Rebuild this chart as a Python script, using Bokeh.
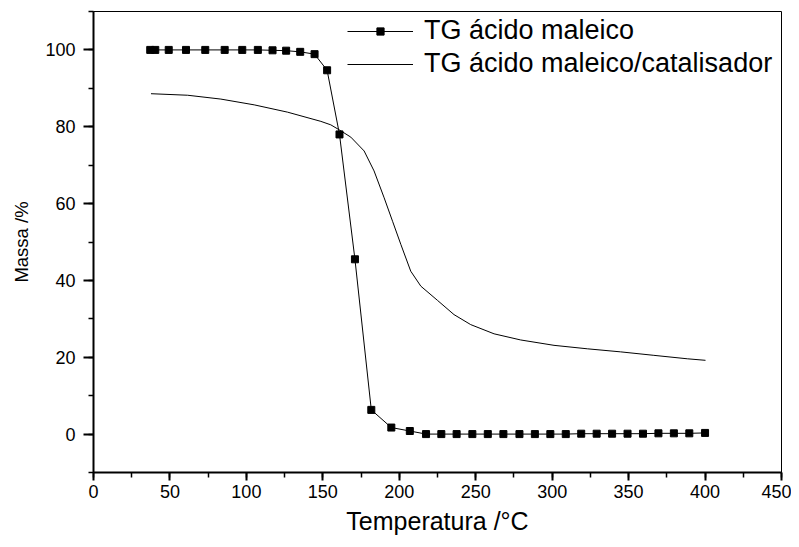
from bokeh.plotting import figure
from bokeh.models import SingleIntervalTicker, Range1d
from bokeh.embed import file_html
from bokeh.resources import INLINE

# Series 1: TG ácido maleico (with square markers)
t1 = [37.1, 40.4, 49.2, 60.5, 73.1, 85.8, 97.3, 107.5, 117.1, 126.0, 135.2, 144.6,
      152.8, 160.9, 171.0, 181.7, 194.8, 206.9, 217.5, 227.5, 237.5, 247.8, 257.9,
      268.1, 278.6, 288.7, 298.8, 308.9, 319.0, 329.1, 339.2, 349.3, 359.4, 369.5,
      379.6, 389.7, 400.0]
m1 = [100.0, 100.0, 100.0, 100.0, 100.0, 100.0, 100.0, 100.0, 99.9, 99.8, 99.5, 98.9,
      94.7, 78.0, 45.5, 6.3, 1.7, 0.8, 0.0, 0.0, 0.0, 0.0, 0.0,
      0.0, 0.0, 0.0, 0.0, 0.0, 0.1, 0.1, 0.1, 0.1, 0.1, 0.2,
      0.2, 0.2, 0.3]

# Series 2: TG ácido maleico/catalisador (plain line)
t2 = [37.6, 61.6, 83.3, 105.1, 126.9, 148.7, 155.2, 160.7, 168.3, 177.0, 183.5, 190.1,
      195.6, 201.0, 207.5, 214.1, 225.0, 235.8, 246.7, 262.0, 279.4, 301.2, 323.0,
      344.8, 366.5, 388.4, 400.3]
m2 = [88.6, 88.2, 87.2, 85.7, 83.8, 81.4, 80.5, 79.2, 77.3, 73.7, 68.5, 61.5,
      55.4, 49.4, 42.4, 38.5, 34.8, 31.1, 28.5, 26.1, 24.5, 23.1, 22.2,
      21.4, 20.5, 19.6, 19.2]

label1 = "TG ácido maleico"
label2 = "TG ácido maleico/catalisador"
x_label = "Temperatura /°C"
y_label = "Massa /%"

FONT = "Liberation Sans"

p = figure(width=791, height=540, output_backend="svg", toolbar_location=None,
           frame_width=688, frame_height=461,
           min_border_left=93, min_border_right=10, min_border_top=11, min_border_bottom=68,
           x_range=Range1d(0, 450), y_range=Range1d(-10, 110))

p.line(t1, m1, line_color="black", line_width=1, legend_label=label1)
p.scatter(t1, m1, marker="square", size=7, fill_color="black", line_color="black",
          legend_label=label1)
p.line(t2, m2, line_color="black", line_width=1, legend_label=label2)

p.grid.visible = False
p.outline_line_color = "black"
p.outline_line_width = 1
p.background_fill_color = "white"
p.border_fill_color = "white"

p.xaxis.ticker = SingleIntervalTicker(interval=50, num_minor_ticks=2)
p.yaxis.ticker = SingleIntervalTicker(interval=20, num_minor_ticks=2)

for ax in (p.xaxis, p.yaxis):
    ax.axis_line_width = 2
    ax.axis_line_color = "black"
    ax.major_tick_line_width = 2
    ax.minor_tick_line_width = 1.5
    ax.major_tick_line_color = "black"
    ax.minor_tick_line_color = "black"
    ax.major_tick_in = 0
    ax.minor_tick_in = 0
    ax.minor_tick_out = 5
    ax.major_label_text_font = FONT
    ax.major_label_text_font_size = "18px"
    ax.major_label_text_color = "black"
    ax.axis_label_text_font = FONT
    ax.axis_label_text_font_style = "normal"
    ax.axis_label_text_color = "black"

p.xaxis.major_tick_out = 8
p.yaxis.major_tick_out = 10
p.xaxis.major_label_standoff = 4
p.yaxis.major_label_standoff = 8
p.xaxis.axis_label = x_label
p.yaxis.axis_label = y_label
p.xaxis.axis_label_text_font_size = "25px"
p.yaxis.axis_label_text_font_size = "18.5px"
p.xaxis.axis_label_standoff = 6
p.yaxis.axis_label_standoff = 10

lg = p.legend[0]
lg.location = (254, 393)
lg.border_line_color = None
lg.background_fill_alpha = 0
lg.margin = 0
lg.padding = 0
lg.spacing = 2
lg.glyph_width = 66
lg.glyph_height = 18
lg.label_height = 31
lg.label_standoff = 11
lg.label_text_font = FONT
lg.label_text_font_size = "27px"
lg.label_text_color = "black"

open("out.html", "w").write(file_html(p, INLINE))
